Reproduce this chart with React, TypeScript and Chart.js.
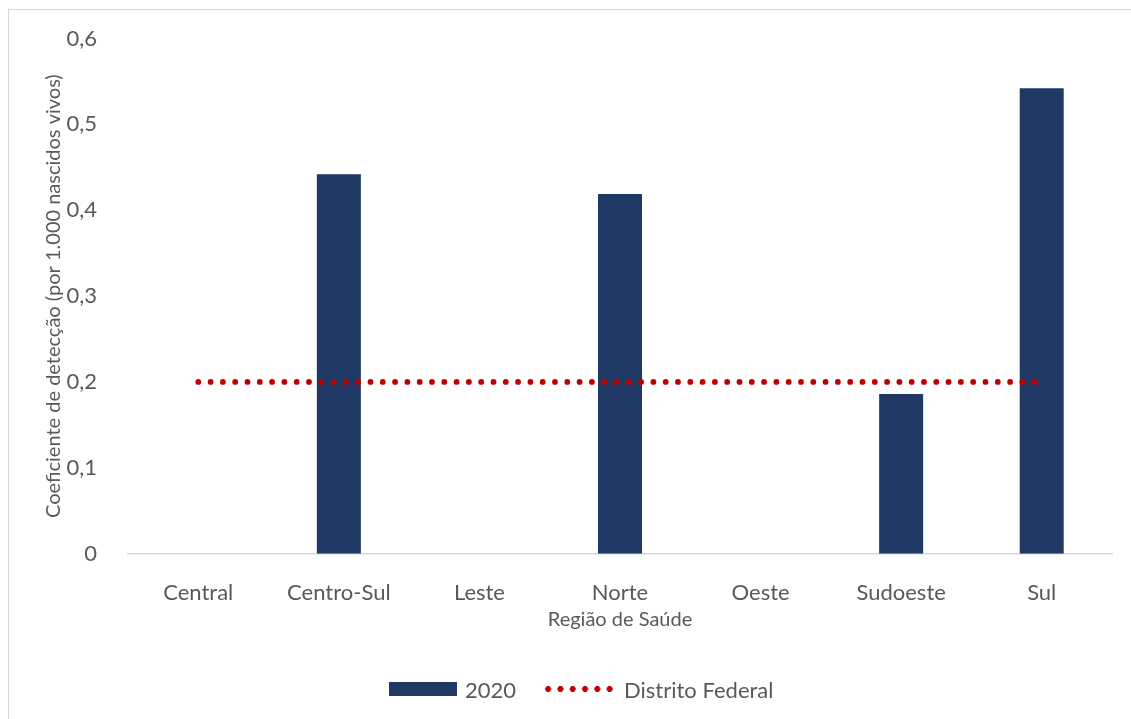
import React, { useEffect, useRef } from "react";
import { Chart, registerables } from "chart.js";

Chart.register(...registerables);

const categories = ["Central", "Centro-Sul", "Leste", "Norte", "Oeste", "Sudoeste", "Sul"];
const values2020 = [0, 0.442, 0, 0.419, 0, 0.186, 0.542];
const distritoFederal = [0.2, 0.2, 0.2, 0.2, 0.2, 0.2, 0.2];
const yTicks = [0, 0.1, 0.2, 0.3, 0.4, 0.5, 0.6];

const BAR_COLOR = "#203864";
const LINE_COLOR = "#C00000";
const TEXT_COLOR = "#595959";
const FONT = "Lato, 'Open Sans', sans-serif";

export default function App() {
  const canvasRef = useRef<HTMLCanvasElement | null>(null);

  useEffect(() => {
    document.body.style.overflow = "hidden";
    document.documentElement.style.overflow = "hidden";
    const canvas = canvasRef.current;
    if (!canvas) return;
    const chart = new Chart(canvas, {
      type: "bar",
      data: {
        labels: categories,
        datasets: [
          {
            type: "line",
            label: "Distrito Federal",
            data: distritoFederal,
            borderColor: LINE_COLOR,
            backgroundColor: LINE_COLOR,
            borderWidth: 5.8,
            borderDash: [0, 12.3],
            borderCapStyle: "round",
            pointRadius: 0,
            fill: false,
            tension: 0,
            order: 0,
          } as any,
          {
            type: "bar",
            label: "2020",
            data: values2020,
            backgroundColor: BAR_COLOR,
            borderWidth: 0,
            categoryPercentage: 1,
            barPercentage: 0.313,
            order: 1,
          },
        ],
      },
      options: {
        animation: false,
        responsive: false,
        maintainAspectRatio: false,
        devicePixelRatio: 1,
        layout: { padding: { top: 38.5, right: 19, bottom: 87, left: 0 } },
        plugins: {
          legend: { display: false },
          tooltip: { enabled: false },
        },
        scales: {
          x: {
            grid: { display: false },
            border: { display: true, color: "#d9d9d9", width: 1.5 },
            ticks: {
              color: TEXT_COLOR,
              font: { family: FONT, size: 22 },
              padding: 18,
              maxRotation: 0,
              autoSkip: false,
            },
            title: {
              display: true,
              text: "Região de Saúde",
              color: TEXT_COLOR,
              font: { family: FONT, size: 20 },
              padding: { top: 0, bottom: 0 },
            },
            afterFit: (scale: any) => {
              scale.height = 78.3;
            },
          },
          y: {
            min: 0,
            max: 0.6,
            afterBuildTicks: (scale: any) => {
              scale.ticks = yTicks.map((v) => ({ value: v }));
            },
            grid: { display: false },
            border: { display: false },
            ticks: {
              color: TEXT_COLOR,
              font: { family: FONT, size: 22 },
              padding: 23,
              callback: (v: any) => (Number(v) === 0 ? "0" : Number(v).toFixed(1).replace(".", ",")),
            },
            title: {
              display: true,
              text: "Coeficiente de detecção (por 1.000 nascidos vivos)",
              color: TEXT_COLOR,
              font: { family: FONT, size: 20 },
              padding: { top: 41.5, bottom: 0 },
            },
            afterFit: (scale: any) => {
              scale.width = 128;
            },
          },
        },
      },
    });
    return () => chart.destroy();
  }, []);

  const dotBg = `radial-gradient(circle, ${LINE_COLOR} 2.7px, rgba(192,0,0,0) 3.3px)`;

  return (
    <div style={{ position: "fixed", left: 0, top: 0, width: 1131, height: 719, overflow: "hidden", background: "#fff" }}>
      <div
        style={{
          position: "absolute",
          left: 8,
          top: 9,
          width: 1140,
          height: 740,
          border: "1px solid #d9d9d9",
          boxSizing: "border-box",
        }}
      />
      <canvas ref={canvasRef} width={1131} height={719} style={{ position: "absolute", left: 0, top: 0, width: 1131, height: 719 }} />
      <div
        style={{
          position: "absolute",
          left: 389,
          top: 676,
          height: 26,
          display: "flex",
          alignItems: "center",
          fontFamily: FONT,
          fontSize: 22,
          color: TEXT_COLOR,
          whiteSpace: "nowrap",
        }}
      >
        <span style={{ display: "inline-block", width: 68, height: 14, background: BAR_COLOR }} />
        <span style={{ marginLeft: 8 }}>2020</span>
        <span
          style={{
            display: "inline-block",
            width: 74,
            height: 12,
            marginLeft: 26,
            backgroundImage: dotBg,
            backgroundSize: "12.3px 12px",
            backgroundRepeat: "repeat-x",
          }}
        />
        <span style={{ marginLeft: 8 }}>Distrito Federal</span>
      </div>
    </div>
  );
}
